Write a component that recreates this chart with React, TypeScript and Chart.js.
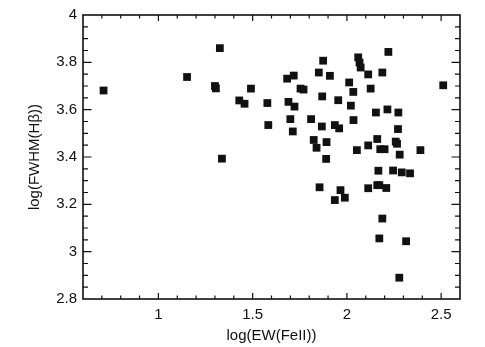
import React, { useEffect, useRef } from "react";
import { Chart, registerables } from "chart.js";

Chart.register(...registerables);

const xTitle = "log(EW(FeII))";
const yTitle = "log(FWHM(Hβ))";
const xTickValues = [1, 1.5, 2, 2.5];
const yTickValues = [2.8, 3, 3.2, 3.4, 3.6, 3.8, 4];

const ewFe = [
  0.709, 1.152, 1.326, 1.300, 1.305, 1.337, 1.429, 1.457, 1.491, 1.578,
  1.583, 1.683, 1.718, 1.690, 1.722, 1.700, 1.713, 1.754, 1.770, 1.810,
  1.824, 1.839, 1.851, 1.874, 1.869, 1.867, 1.855, 1.892, 1.890, 1.910,
  1.954, 1.936, 1.959, 1.936, 1.966, 1.989, 2.012, 2.034, 2.021, 2.035,
  2.053, 2.060, 2.067, 2.073, 2.113, 2.126, 2.113, 2.113, 2.220, 2.188,
  2.154, 2.215, 2.161, 2.177, 2.200, 2.167, 2.161, 2.172, 2.209, 2.188,
  2.172, 2.273, 2.271, 2.259, 2.266, 2.280, 2.245, 2.291, 2.335, 2.390,
  2.314, 2.278, 2.511,
];
const fwhmHb = [
  3.681, 3.738, 3.860, 3.700, 3.690, 3.393, 3.639, 3.625, 3.689, 3.628,
  3.535, 3.731, 3.744, 3.633, 3.613, 3.560, 3.508, 3.689, 3.685, 3.560,
  3.472, 3.439, 3.757, 3.807, 3.656, 3.529, 3.272, 3.463, 3.392, 3.743,
  3.640, 3.535, 3.521, 3.218, 3.260, 3.228, 3.715, 3.675, 3.617, 3.556,
  3.429, 3.821, 3.799, 3.778, 3.749, 3.689, 3.449, 3.268, 3.844, 3.757,
  3.588, 3.601, 3.476, 3.433, 3.433, 3.342, 3.281, 3.281, 3.269, 3.140,
  3.056, 3.588, 3.518, 3.465, 3.456, 3.410, 3.343, 3.335, 3.331, 3.429,
  3.044, 2.890, 3.703,
];

const FONT = "'Liberation Sans', Arial, Helvetica, sans-serif";
const INK = "#111";

const frameTicks = {
  id: "frameTicks",
  afterDatasetsDraw(chart: any) {
    const { ctx, chartArea, scales } = chart;
    const { left, right, top, bottom } = chartArea;
    const xs = scales.x;
    const ys = scales.y;
    ctx.save();
    ctx.strokeStyle = INK;
    ctx.lineWidth = 1.2;
    ctx.beginPath();
    for (let i = 7; i <= 25; i++) {
      const v = i / 10;
      const px = xs.getPixelForValue(v);
      if (px <= left + 0.5 || px >= right - 0.5) continue;
      const major = i % 5 === 0;
      const len = major ? 6 : 3.5;
      ctx.moveTo(px, bottom);
      ctx.lineTo(px, bottom - len);
      ctx.moveTo(px, top);
      ctx.lineTo(px, top + len);
    }
    for (let i = 57; i <= 79; i++) {
      const v = i / 20;
      const py = ys.getPixelForValue(v);
      if (py <= top + 0.5 || py >= bottom - 0.5) continue;
      const major = i % 4 === 0;
      const len = major ? 8.5 : 5;
      ctx.moveTo(left, py);
      ctx.lineTo(left + len, py);
      ctx.moveTo(right, py);
      ctx.lineTo(right - len, py);
    }
    ctx.stroke();
    ctx.lineWidth = 1.6;
    ctx.strokeRect(left, top, right - left, bottom - top);
    ctx.restore();
  },
};

export default function App() {
  const canvasRef = useRef<HTMLCanvasElement | null>(null);

  useEffect(() => {
    document.body.style.margin = "0";
    const canvas = canvasRef.current;
    if (!canvas) return;
    const chart = new Chart(canvas, {
      type: "scatter",
      data: {
        datasets: [
          {
            data: ewFe.map((x, i) => ({ x, y: fwhmHb[i] })),
            pointStyle: "rect",
            pointRadius: 5.5,
            pointBorderWidth: 0,
            backgroundColor: INK,
            borderColor: INK,
          },
        ],
      },
      options: {
        animation: false,
        responsive: false,
        devicePixelRatio: 1,
        layout: { padding: { top: 11, right: 25, left: 0, bottom: 0 }, autoPadding: false },
        plugins: { legend: { display: false }, tooltip: { enabled: false } },
        scales: {
          x: {
            type: "linear",
            min: 0.6,
            max: 2.6,
            grid: { display: false, drawTicks: false },
            border: { display: false },
            afterBuildTicks: (s: any) => {
              s.ticks = xTickValues.map((value) => ({ value }));
            },
            afterFit: (s: any) => {
              s.height = 48;
            },
            ticks: {
              padding: 7,
              color: INK,
              font: { family: FONT, size: 15 },
              callback: (v: any) => String(+Number(v).toFixed(1)),
            },
            title: {
              display: true,
              text: xTitle,
              color: INK,
              font: { family: FONT, size: 15 },
              padding: { top: 0, bottom: 2 },
            },
          },
          y: {
            type: "linear",
            min: 2.8,
            max: 4,
            grid: { display: false, drawTicks: false },
            border: { display: false },
            afterBuildTicks: (s: any) => {
              s.ticks = yTickValues.map((value) => ({ value }));
            },
            afterFit: (s: any) => {
              s.width = 83;
            },
            ticks: {
              padding: 6,
              color: INK,
              font: { family: FONT, size: 15 },
              callback: (v: any) => String(+Number(v).toFixed(1)),
            },
            title: {
              display: true,
              text: yTitle,
              color: INK,
              font: { family: FONT, size: 15 },
              padding: { top: 26, bottom: 0 },
            },
          },
        },
      },
      plugins: [frameTicks],
    });
    return () => chart.destroy();
  }, []);

  return (
    <div style={{ width: 485, height: 347, background: "#fff" }}>
      <canvas ref={canvasRef} width={485} height={347} style={{ display: "block" }} />
    </div>
  );
}
